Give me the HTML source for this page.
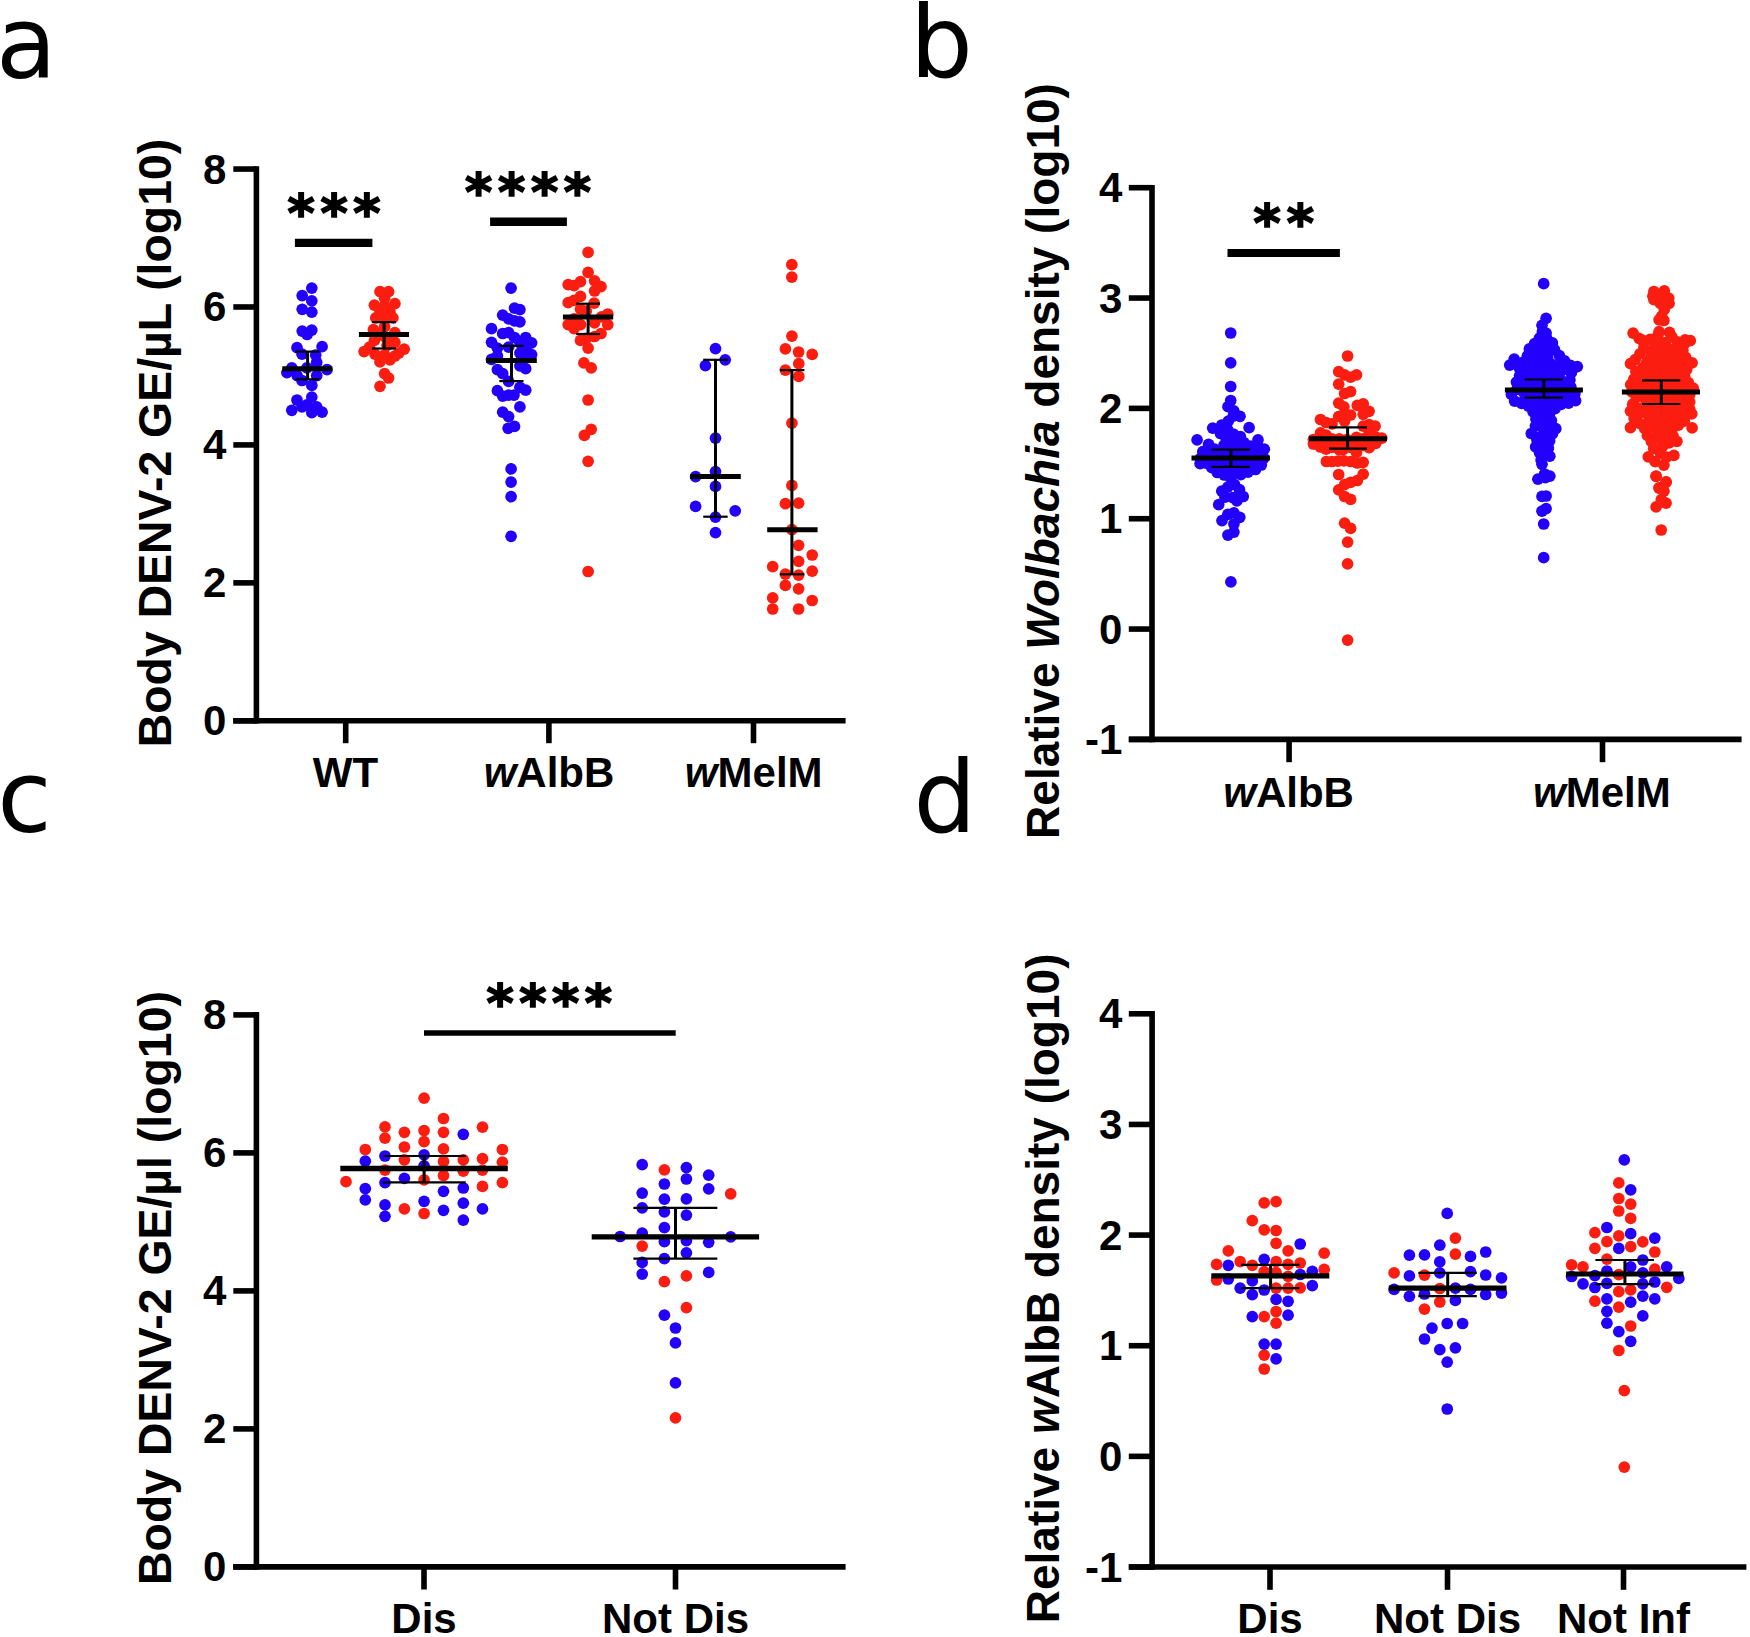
<!DOCTYPE html>
<html lang="en">
<head>
<meta charset="utf-8">
<title>Figure</title>
<style>
html,body{margin:0;padding:0;background:#fff;}
body{width:1750px;height:1637px;overflow:hidden;}
svg{display:block;}
.t{font-family:"Liberation Sans",Arial,Helvetica,sans-serif;font-weight:bold;fill:#000;}
.p{font-family:"DejaVu Sans","Liberation Sans",sans-serif;font-weight:normal;fill:#000;}
.s{font-family:"DejaVu Sans","Liberation Sans",sans-serif;font-weight:bold;fill:#000;}
</style>
</head>
<body>
<svg width="1750" height="1637" viewBox="0 0 1750 1637">
<rect width="1750" height="1637" fill="#fff"/>
<text class="p" x="-4" y="77.5" font-size="99" text-anchor="start">a</text>
<text class="p" x="910" y="77.4" font-size="99" text-anchor="start">b</text>
<text class="p" x="-2.8" y="832.1" font-size="99" text-anchor="start">c</text>
<text class="p" x="913.5" y="831.6" font-size="99" text-anchor="start">d</text>
<line x1="256.4" y1="166.2" x2="256.4" y2="723.5999999999999" stroke="#000" stroke-width="5.6"/>
<line x1="233.2" y1="720.8" x2="845.6" y2="720.8" stroke="#000" stroke-width="5.6"/>
<line x1="233.3" y1="720.8" x2="256.4" y2="720.8" stroke="#000" stroke-width="5.6"/>
<line x1="233.3" y1="582.8599999999999" x2="256.4" y2="582.8599999999999" stroke="#000" stroke-width="5.6"/>
<line x1="233.3" y1="444.91999999999996" x2="256.4" y2="444.91999999999996" stroke="#000" stroke-width="5.6"/>
<line x1="233.3" y1="306.97999999999996" x2="256.4" y2="306.97999999999996" stroke="#000" stroke-width="5.6"/>
<line x1="233.3" y1="169.03999999999996" x2="256.4" y2="169.03999999999996" stroke="#000" stroke-width="5.6"/>
<line x1="345.7" y1="720.8" x2="345.7" y2="743.2" stroke="#000" stroke-width="5.6"/>
<line x1="548.9" y1="720.8" x2="548.9" y2="743.2" stroke="#000" stroke-width="5.6"/>
<line x1="753.5" y1="720.8" x2="753.5" y2="743.2" stroke="#000" stroke-width="5.6"/>
<text class="t" x="226.3" y="735.3" font-size="42" text-anchor="end">0</text>
<text class="t" x="226.3" y="597.3599999999999" font-size="42" text-anchor="end">2</text>
<text class="t" x="226.3" y="459.41999999999996" font-size="42" text-anchor="end">4</text>
<text class="t" x="226.3" y="321.47999999999996" font-size="42" text-anchor="end">6</text>
<text class="t" x="226.3" y="183.53999999999996" font-size="42" text-anchor="end">8</text>
<text class="t" transform="translate(171.2 443) rotate(-90)" font-size="46.4" text-anchor="middle">Body DENV-2 GE/µL (log10)</text>
<text class="t" x="345.5" y="787" font-size="42" text-anchor="middle">WT</text>
<text class="t" x="549" y="787" font-size="42" text-anchor="middle"><tspan font-style="italic">w</tspan>AlbB</text>
<text class="t" x="753.7" y="787" font-size="42" text-anchor="middle"><tspan font-style="italic">w</tspan>MelM</text>
<line x1="1152.0" y1="184.9" x2="1152.0" y2="742.1999999999999" stroke="#000" stroke-width="5.6"/>
<line x1="1128.8" y1="739.4" x2="1741.6" y2="739.4" stroke="#000" stroke-width="5.6"/>
<line x1="1128.8" y1="739.4" x2="1152.0" y2="739.4" stroke="#000" stroke-width="5.6"/>
<line x1="1128.8" y1="629.06" x2="1152.0" y2="629.06" stroke="#000" stroke-width="5.6"/>
<line x1="1128.8" y1="518.7199999999999" x2="1152.0" y2="518.7199999999999" stroke="#000" stroke-width="5.6"/>
<line x1="1128.8" y1="408.37999999999994" x2="1152.0" y2="408.37999999999994" stroke="#000" stroke-width="5.6"/>
<line x1="1128.8" y1="298.03999999999996" x2="1152.0" y2="298.03999999999996" stroke="#000" stroke-width="5.6"/>
<line x1="1128.8" y1="187.69999999999993" x2="1152.0" y2="187.69999999999993" stroke="#000" stroke-width="5.6"/>
<line x1="1289.1" y1="739.4" x2="1289.1" y2="762.1999999999999" stroke="#000" stroke-width="5.6"/>
<line x1="1602.5" y1="739.4" x2="1602.5" y2="762.1999999999999" stroke="#000" stroke-width="5.6"/>
<text class="t" x="1122.3" y="753.9" font-size="42" text-anchor="end">-1</text>
<text class="t" x="1122.3" y="643.56" font-size="42" text-anchor="end">0</text>
<text class="t" x="1122.3" y="533.2199999999999" font-size="42" text-anchor="end">1</text>
<text class="t" x="1122.3" y="422.87999999999994" font-size="42" text-anchor="end">2</text>
<text class="t" x="1122.3" y="312.53999999999996" font-size="42" text-anchor="end">3</text>
<text class="t" x="1122.3" y="202.19999999999993" font-size="42" text-anchor="end">4</text>
<text class="t" transform="translate(1058.5 461) rotate(-90)" font-size="46" text-anchor="middle">Relative <tspan font-style="italic">Wolbachia</tspan> density (log10)</text>
<text class="t" x="1288.6" y="806.5" font-size="42" text-anchor="middle"><tspan font-style="italic">w</tspan>AlbB</text>
<text class="t" x="1601.9" y="806.5" font-size="42" text-anchor="middle"><tspan font-style="italic">w</tspan>MelM</text>
<line x1="256.4" y1="1012.1" x2="256.4" y2="1569.7" stroke="#000" stroke-width="5.6"/>
<line x1="233.2" y1="1566.9" x2="845.6" y2="1566.9" stroke="#000" stroke-width="5.6"/>
<line x1="233.3" y1="1566.9" x2="256.4" y2="1566.9" stroke="#000" stroke-width="5.6"/>
<line x1="233.3" y1="1428.9" x2="256.4" y2="1428.9" stroke="#000" stroke-width="5.6"/>
<line x1="233.3" y1="1290.9" x2="256.4" y2="1290.9" stroke="#000" stroke-width="5.6"/>
<line x1="233.3" y1="1152.9" x2="256.4" y2="1152.9" stroke="#000" stroke-width="5.6"/>
<line x1="233.3" y1="1014.9000000000001" x2="256.4" y2="1014.9000000000001" stroke="#000" stroke-width="5.6"/>
<line x1="424" y1="1566.9" x2="424" y2="1589.5" stroke="#000" stroke-width="5.6"/>
<line x1="675.5" y1="1566.9" x2="675.5" y2="1589.5" stroke="#000" stroke-width="5.6"/>
<text class="t" x="226.3" y="1581.4" font-size="42" text-anchor="end">0</text>
<text class="t" x="226.3" y="1443.4" font-size="42" text-anchor="end">2</text>
<text class="t" x="226.3" y="1305.4" font-size="42" text-anchor="end">4</text>
<text class="t" x="226.3" y="1167.4" font-size="42" text-anchor="end">6</text>
<text class="t" x="226.3" y="1029.4" font-size="42" text-anchor="end">8</text>
<text class="t" transform="translate(171.2 1288) rotate(-90)" font-size="46.4" text-anchor="middle">Body DENV-2 GE/µl (log10)</text>
<text class="t" x="424" y="1633.3" font-size="42" text-anchor="middle">Dis</text>
<text class="t" x="675.5" y="1633.3" font-size="42" text-anchor="middle">Not Dis</text>
<line x1="1152.1" y1="1011.0" x2="1152.1" y2="1569.8" stroke="#000" stroke-width="5.6"/>
<line x1="1128.8" y1="1567.0" x2="1746.4" y2="1567.0" stroke="#000" stroke-width="5.6"/>
<line x1="1128.8" y1="1567.0" x2="1152.1" y2="1567.0" stroke="#000" stroke-width="5.6"/>
<line x1="1128.8" y1="1456.36" x2="1152.1" y2="1456.36" stroke="#000" stroke-width="5.6"/>
<line x1="1128.8" y1="1345.7199999999998" x2="1152.1" y2="1345.7199999999998" stroke="#000" stroke-width="5.6"/>
<line x1="1128.8" y1="1235.08" x2="1152.1" y2="1235.08" stroke="#000" stroke-width="5.6"/>
<line x1="1128.8" y1="1124.4399999999998" x2="1152.1" y2="1124.4399999999998" stroke="#000" stroke-width="5.6"/>
<line x1="1128.8" y1="1013.8" x2="1152.1" y2="1013.8" stroke="#000" stroke-width="5.6"/>
<line x1="1270" y1="1567.0" x2="1270" y2="1589.8" stroke="#000" stroke-width="5.6"/>
<line x1="1447.5" y1="1567.0" x2="1447.5" y2="1589.8" stroke="#000" stroke-width="5.6"/>
<line x1="1623.5" y1="1567.0" x2="1623.5" y2="1589.8" stroke="#000" stroke-width="5.6"/>
<text class="t" x="1122.3" y="1581.5" font-size="42" text-anchor="end">-1</text>
<text class="t" x="1122.3" y="1470.86" font-size="42" text-anchor="end">0</text>
<text class="t" x="1122.3" y="1360.2199999999998" font-size="42" text-anchor="end">1</text>
<text class="t" x="1122.3" y="1249.58" font-size="42" text-anchor="end">2</text>
<text class="t" x="1122.3" y="1138.9399999999998" font-size="42" text-anchor="end">3</text>
<text class="t" x="1122.3" y="1028.3" font-size="42" text-anchor="end">4</text>
<text class="t" transform="translate(1058.5 1288.4) rotate(-90)" font-size="46" text-anchor="middle">Relative <tspan font-style="italic">w</tspan>AlbB density (log10)</text>
<text class="t" x="1270" y="1633.3" font-size="42" text-anchor="middle">Dis</text>
<text class="t" x="1447.5" y="1633.3" font-size="42" text-anchor="middle">Not Dis</text>
<text class="t" x="1623.5" y="1633.3" font-size="42" text-anchor="middle">Not Inf</text>
<g fill="#2200fb">
<circle cx="311.8" cy="288.1" r="5.85"/>
<circle cx="302.2" cy="295.6" r="5.85"/>
<circle cx="311.8" cy="300.8" r="5.85"/>
<circle cx="302.2" cy="309.3" r="5.85"/>
<circle cx="311.8" cy="312.2" r="5.85"/>
<circle cx="302.2" cy="331.1" r="5.85"/>
<circle cx="311.8" cy="330.1" r="5.85"/>
<circle cx="307.1" cy="334.5" r="5.85"/>
<circle cx="297.0" cy="347.7" r="5.85"/>
<circle cx="322.1" cy="346.7" r="5.85"/>
<circle cx="302.0" cy="354.1" r="5.85"/>
<circle cx="315.7" cy="355.0" r="5.85"/>
<circle cx="316.7" cy="362.4" r="5.85"/>
<circle cx="291.8" cy="367.8" r="5.85"/>
<circle cx="306.9" cy="367.8" r="5.85"/>
<circle cx="327.0" cy="369.7" r="5.85"/>
<circle cx="286.9" cy="372.6" r="5.85"/>
<circle cx="297.1" cy="375.6" r="5.85"/>
<circle cx="316.7" cy="375.6" r="5.85"/>
<circle cx="302.0" cy="380.5" r="5.85"/>
<circle cx="311.8" cy="385.4" r="5.85"/>
<circle cx="311.8" cy="397.1" r="5.85"/>
<circle cx="297.0" cy="400.0" r="5.85"/>
<circle cx="291.8" cy="410.3" r="5.85"/>
<circle cx="302.0" cy="406.9" r="5.85"/>
<circle cx="316.7" cy="406.9" r="5.85"/>
<circle cx="311.8" cy="412.7" r="5.85"/>
<circle cx="322.1" cy="412.2" r="5.85"/>
<circle cx="306.9" cy="404.9" r="5.85"/>
</g>
<g fill="#fb1e10">
<circle cx="380.0" cy="291.7" r="5.85"/>
<circle cx="388.6" cy="291.7" r="5.85"/>
<circle cx="384.6" cy="298.3" r="5.85"/>
<circle cx="374.4" cy="305.2" r="5.85"/>
<circle cx="394.9" cy="303.7" r="5.85"/>
<circle cx="384.6" cy="306.2" r="5.85"/>
<circle cx="380.0" cy="312.0" r="5.85"/>
<circle cx="390.0" cy="312.0" r="5.85"/>
<circle cx="375.8" cy="317.9" r="5.85"/>
<circle cx="392.9" cy="317.9" r="5.85"/>
<circle cx="384.6" cy="318.9" r="5.85"/>
<circle cx="373.4" cy="329.6" r="5.85"/>
<circle cx="384.6" cy="326.7" r="5.85"/>
<circle cx="394.9" cy="332.6" r="5.85"/>
<circle cx="380.0" cy="334.5" r="5.85"/>
<circle cx="390.0" cy="337.5" r="5.85"/>
<circle cx="374.4" cy="340.4" r="5.85"/>
<circle cx="394.9" cy="342.3" r="5.85"/>
<circle cx="364.1" cy="351.6" r="5.85"/>
<circle cx="369.5" cy="347.2" r="5.85"/>
<circle cx="404.2" cy="349.2" r="5.85"/>
<circle cx="398.8" cy="353.1" r="5.85"/>
<circle cx="374.9" cy="354.1" r="5.85"/>
<circle cx="384.6" cy="355.0" r="5.85"/>
<circle cx="394.9" cy="356.0" r="5.85"/>
<circle cx="380.0" cy="361.9" r="5.85"/>
<circle cx="390.0" cy="359.9" r="5.85"/>
<circle cx="384.6" cy="373.6" r="5.85"/>
<circle cx="388.6" cy="378.0" r="5.85"/>
<circle cx="380.0" cy="386.3" r="5.85"/>
</g>
<g fill="#fb1e10">
<circle cx="384.6" cy="336.5" r="5.85"/>
<circle cx="387.1" cy="345.3" r="5.85"/>
</g>
<g fill="#2200fb">
<circle cx="511.1" cy="288.1" r="5.85"/>
<circle cx="514.5" cy="308.1" r="5.85"/>
<circle cx="519.9" cy="309.6" r="5.85"/>
<circle cx="502.7" cy="315.2" r="5.85"/>
<circle cx="508.6" cy="318.9" r="5.85"/>
<circle cx="514.5" cy="320.8" r="5.85"/>
<circle cx="519.9" cy="321.8" r="5.85"/>
<circle cx="491.5" cy="328.7" r="5.85"/>
<circle cx="502.7" cy="333.5" r="5.85"/>
<circle cx="508.6" cy="332.6" r="5.85"/>
<circle cx="514.5" cy="337.5" r="5.85"/>
<circle cx="525.7" cy="337.5" r="5.85"/>
<circle cx="491.5" cy="342.3" r="5.85"/>
<circle cx="519.9" cy="342.8" r="5.85"/>
<circle cx="531.6" cy="342.8" r="5.85"/>
<circle cx="508.6" cy="347.2" r="5.85"/>
<circle cx="497.4" cy="348.2" r="5.85"/>
<circle cx="525.7" cy="348.2" r="5.85"/>
<circle cx="531.6" cy="354.6" r="5.85"/>
<circle cx="525.7" cy="355.0" r="5.85"/>
<circle cx="519.9" cy="353.1" r="5.85"/>
<circle cx="491.5" cy="359.4" r="5.85"/>
<circle cx="497.4" cy="356.0" r="5.85"/>
<circle cx="497.4" cy="369.7" r="5.85"/>
<circle cx="502.7" cy="373.6" r="5.85"/>
<circle cx="525.7" cy="368.7" r="5.85"/>
<circle cx="519.9" cy="365.8" r="5.85"/>
<circle cx="508.6" cy="381.4" r="5.85"/>
<circle cx="497.4" cy="390.7" r="5.85"/>
<circle cx="525.7" cy="390.2" r="5.85"/>
<circle cx="519.9" cy="387.3" r="5.85"/>
<circle cx="502.7" cy="396.1" r="5.85"/>
<circle cx="508.6" cy="395.1" r="5.85"/>
<circle cx="514.0" cy="395.1" r="5.85"/>
<circle cx="519.9" cy="406.9" r="5.85"/>
<circle cx="502.7" cy="412.2" r="5.85"/>
<circle cx="508.6" cy="416.6" r="5.85"/>
<circle cx="508.1" cy="428.3" r="5.85"/>
<circle cx="514.5" cy="426.4" r="5.85"/>
<circle cx="511.1" cy="468.9" r="5.85"/>
<circle cx="511.1" cy="482.1" r="5.85"/>
<circle cx="511.1" cy="496.7" r="5.85"/>
<circle cx="511.1" cy="536.3" r="5.85"/>
</g>
<g fill="#fb1e10">
<circle cx="588.1" cy="252.3" r="5.85"/>
<circle cx="588.1" cy="272.4" r="5.85"/>
<circle cx="568.2" cy="284.7" r="5.85"/>
<circle cx="574.1" cy="285.6" r="5.85"/>
<circle cx="580.5" cy="281.7" r="5.85"/>
<circle cx="594.6" cy="280.8" r="5.85"/>
<circle cx="601.0" cy="286.6" r="5.85"/>
<circle cx="594.6" cy="291.0" r="5.85"/>
<circle cx="580.5" cy="296.4" r="5.85"/>
<circle cx="568.2" cy="302.7" r="5.85"/>
<circle cx="574.1" cy="300.3" r="5.85"/>
<circle cx="594.2" cy="303.2" r="5.85"/>
<circle cx="580.5" cy="309.1" r="5.85"/>
<circle cx="586.3" cy="311.1" r="5.85"/>
<circle cx="607.8" cy="314.0" r="5.85"/>
<circle cx="601.5" cy="316.9" r="5.85"/>
<circle cx="568.2" cy="324.7" r="5.85"/>
<circle cx="574.1" cy="318.9" r="5.85"/>
<circle cx="580.5" cy="324.7" r="5.85"/>
<circle cx="594.6" cy="322.8" r="5.85"/>
<circle cx="607.8" cy="324.7" r="5.85"/>
<circle cx="574.1" cy="328.7" r="5.85"/>
<circle cx="601.0" cy="333.5" r="5.85"/>
<circle cx="580.5" cy="340.4" r="5.85"/>
<circle cx="594.6" cy="336.5" r="5.85"/>
<circle cx="586.3" cy="338.4" r="5.85"/>
<circle cx="588.1" cy="348.2" r="5.85"/>
<circle cx="583.9" cy="362.9" r="5.85"/>
<circle cx="591.2" cy="367.8" r="5.85"/>
<circle cx="588.1" cy="400.0" r="5.85"/>
<circle cx="591.2" cy="429.3" r="5.85"/>
<circle cx="584.4" cy="435.4" r="5.85"/>
<circle cx="588.1" cy="461.3" r="5.85"/>
<circle cx="588.1" cy="571.5" r="5.85"/>
</g>
<g fill="#2200fb">
<circle cx="715.5" cy="348.6" r="5.85"/>
<circle cx="725.2" cy="359.8" r="5.85"/>
<circle cx="705.4" cy="365.7" r="5.85"/>
<circle cx="715.5" cy="438.2" r="5.85"/>
<circle cx="715.5" cy="471.6" r="5.85"/>
<circle cx="695.6" cy="476.6" r="5.85"/>
<circle cx="715.5" cy="486.4" r="5.85"/>
<circle cx="695.6" cy="506.4" r="5.85"/>
<circle cx="735.2" cy="510.9" r="5.85"/>
<circle cx="715.5" cy="517.1" r="5.85"/>
<circle cx="715.5" cy="532.6" r="5.85"/>
</g>
<g fill="#fb1e10">
<circle cx="791.8" cy="264.7" r="5.85"/>
<circle cx="791.8" cy="277.1" r="5.85"/>
<circle cx="791.9" cy="336.1" r="5.85"/>
<circle cx="785.4" cy="348.9" r="5.85"/>
<circle cx="798.6" cy="352.0" r="5.85"/>
<circle cx="812.2" cy="354.4" r="5.85"/>
<circle cx="798.8" cy="363.7" r="5.85"/>
<circle cx="785.4" cy="370.1" r="5.85"/>
<circle cx="798.8" cy="376.4" r="5.85"/>
<circle cx="791.9" cy="423.1" r="5.85"/>
<circle cx="791.9" cy="485.4" r="5.85"/>
<circle cx="785.4" cy="503.7" r="5.85"/>
<circle cx="798.6" cy="503.2" r="5.85"/>
<circle cx="791.9" cy="529.6" r="5.85"/>
<circle cx="798.6" cy="545.3" r="5.85"/>
<circle cx="812.2" cy="555.0" r="5.85"/>
<circle cx="798.6" cy="561.4" r="5.85"/>
<circle cx="772.7" cy="566.6" r="5.85"/>
<circle cx="812.2" cy="571.2" r="5.85"/>
<circle cx="785.4" cy="574.1" r="5.85"/>
<circle cx="798.6" cy="575.1" r="5.85"/>
<circle cx="785.4" cy="585.4" r="5.85"/>
<circle cx="798.6" cy="588.8" r="5.85"/>
<circle cx="772.7" cy="597.9" r="5.85"/>
<circle cx="812.2" cy="600.5" r="5.85"/>
<circle cx="772.7" cy="609.0" r="5.85"/>
<circle cx="798.6" cy="609.0" r="5.85"/>
</g>
<g fill="#fb1e10">
<circle cx="346.0" cy="1181.7" r="5.85"/>
<circle cx="365.3" cy="1149.5" r="5.85"/>
<circle cx="385.0" cy="1126.9" r="5.85"/>
<circle cx="385.0" cy="1138.1" r="5.85"/>
<circle cx="385.0" cy="1170.1" r="5.85"/>
<circle cx="404.4" cy="1132.3" r="5.85"/>
<circle cx="404.4" cy="1147.0" r="5.85"/>
<circle cx="404.4" cy="1159.8" r="5.85"/>
<circle cx="404.4" cy="1208.9" r="5.85"/>
<circle cx="424.1" cy="1098.2" r="5.85"/>
<circle cx="424.1" cy="1130.5" r="5.85"/>
<circle cx="424.1" cy="1141.7" r="5.85"/>
<circle cx="424.1" cy="1179.9" r="5.85"/>
<circle cx="424.1" cy="1213.5" r="5.85"/>
<circle cx="443.5" cy="1118.5" r="5.85"/>
<circle cx="443.5" cy="1132.3" r="5.85"/>
<circle cx="443.5" cy="1148.9" r="5.85"/>
<circle cx="443.5" cy="1161.4" r="5.85"/>
<circle cx="443.5" cy="1175.5" r="5.85"/>
<circle cx="463.3" cy="1159.8" r="5.85"/>
<circle cx="463.3" cy="1171.2" r="5.85"/>
<circle cx="482.5" cy="1127.2" r="5.85"/>
<circle cx="482.5" cy="1158.7" r="5.85"/>
<circle cx="482.5" cy="1170.1" r="5.85"/>
<circle cx="482.5" cy="1186.4" r="5.85"/>
<circle cx="502.4" cy="1149.5" r="5.85"/>
<circle cx="502.4" cy="1162.2" r="5.85"/>
<circle cx="502.4" cy="1182.6" r="5.85"/>
</g>
<g fill="#2200fb">
<circle cx="365.3" cy="1161.2" r="5.85"/>
<circle cx="365.3" cy="1188.6" r="5.85"/>
<circle cx="365.3" cy="1199.8" r="5.85"/>
<circle cx="385.0" cy="1156.0" r="5.85"/>
<circle cx="385.0" cy="1182.6" r="5.85"/>
<circle cx="385.0" cy="1204.9" r="5.85"/>
<circle cx="385.0" cy="1216.3" r="5.85"/>
<circle cx="404.4" cy="1178.3" r="5.85"/>
<circle cx="424.1" cy="1154.9" r="5.85"/>
<circle cx="424.1" cy="1165.8" r="5.85"/>
<circle cx="424.1" cy="1201.3" r="5.85"/>
<circle cx="443.5" cy="1191.3" r="5.85"/>
<circle cx="443.5" cy="1210.3" r="5.85"/>
<circle cx="463.3" cy="1134.3" r="5.85"/>
<circle cx="463.3" cy="1188.0" r="5.85"/>
<circle cx="463.3" cy="1203.2" r="5.85"/>
<circle cx="463.3" cy="1220.1" r="5.85"/>
<circle cx="482.5" cy="1208.9" r="5.85"/>
</g>
<g fill="#2200fb">
<circle cx="620.2" cy="1236.5" r="5.85"/>
<circle cx="642.2" cy="1164.7" r="5.85"/>
<circle cx="642.2" cy="1193.1" r="5.85"/>
<circle cx="642.2" cy="1207.9" r="5.85"/>
<circle cx="642.2" cy="1233.1" r="5.85"/>
<circle cx="642.2" cy="1262.4" r="5.85"/>
<circle cx="642.2" cy="1274.1" r="5.85"/>
<circle cx="664.4" cy="1184.0" r="5.85"/>
<circle cx="664.4" cy="1199.2" r="5.85"/>
<circle cx="664.4" cy="1211.9" r="5.85"/>
<circle cx="664.4" cy="1227.6" r="5.85"/>
<circle cx="664.4" cy="1241.7" r="5.85"/>
<circle cx="664.4" cy="1258.6" r="5.85"/>
<circle cx="686.4" cy="1167.6" r="5.85"/>
<circle cx="686.4" cy="1179.0" r="5.85"/>
<circle cx="686.4" cy="1198.9" r="5.85"/>
<circle cx="686.4" cy="1215.1" r="5.85"/>
<circle cx="686.4" cy="1240.7" r="5.85"/>
<circle cx="686.4" cy="1252.8" r="5.85"/>
<circle cx="708.7" cy="1175.2" r="5.85"/>
<circle cx="708.7" cy="1188.8" r="5.85"/>
<circle cx="708.7" cy="1242.3" r="5.85"/>
<circle cx="708.7" cy="1272.4" r="5.85"/>
<circle cx="730.7" cy="1236.9" r="5.85"/>
<circle cx="664.4" cy="1315.2" r="5.85"/>
<circle cx="675.5" cy="1328.0" r="5.85"/>
<circle cx="675.5" cy="1342.9" r="5.85"/>
<circle cx="675.5" cy="1382.8" r="5.85"/>
</g>
<g fill="#fb1e10">
<circle cx="642.2" cy="1246.1" r="5.85"/>
<circle cx="664.4" cy="1169.8" r="5.85"/>
<circle cx="664.4" cy="1281.7" r="5.85"/>
<circle cx="686.4" cy="1275.9" r="5.85"/>
<circle cx="730.7" cy="1193.8" r="5.85"/>
<circle cx="686.4" cy="1307.7" r="5.85"/>
<circle cx="675.5" cy="1417.8" r="5.85"/>
</g>
<g fill="#fb1e10">
<circle cx="1264.2" cy="1202.8" r="5.85"/>
<circle cx="1276.1" cy="1201.6" r="5.85"/>
<circle cx="1252.3" cy="1220.7" r="5.85"/>
<circle cx="1264.2" cy="1229.8" r="5.85"/>
<circle cx="1276.1" cy="1230.5" r="5.85"/>
<circle cx="1276.1" cy="1243.3" r="5.85"/>
<circle cx="1228.3" cy="1250.9" r="5.85"/>
<circle cx="1288.1" cy="1250.8" r="5.85"/>
<circle cx="1324.2" cy="1253.2" r="5.85"/>
<circle cx="1240.2" cy="1261.6" r="5.85"/>
<circle cx="1276.1" cy="1261.6" r="5.85"/>
<circle cx="1216.6" cy="1264.4" r="5.85"/>
<circle cx="1252.3" cy="1265.3" r="5.85"/>
<circle cx="1288.1" cy="1264.4" r="5.85"/>
<circle cx="1300.2" cy="1263.0" r="5.85"/>
<circle cx="1324.2" cy="1269.4" r="5.85"/>
<circle cx="1264.2" cy="1271.7" r="5.85"/>
<circle cx="1276.1" cy="1272.6" r="5.85"/>
<circle cx="1288.1" cy="1276.3" r="5.85"/>
<circle cx="1216.6" cy="1280.0" r="5.85"/>
<circle cx="1276.1" cy="1288.2" r="5.85"/>
<circle cx="1288.1" cy="1288.2" r="5.85"/>
<circle cx="1300.2" cy="1287.8" r="5.85"/>
<circle cx="1276.1" cy="1311.5" r="5.85"/>
<circle cx="1264.2" cy="1316.6" r="5.85"/>
<circle cx="1276.1" cy="1323.2" r="5.85"/>
<circle cx="1264.2" cy="1355.2" r="5.85"/>
<circle cx="1264.2" cy="1369.0" r="5.85"/>
</g>
<g fill="#2200fb">
<circle cx="1300.2" cy="1244.0" r="5.85"/>
<circle cx="1264.2" cy="1259.3" r="5.85"/>
<circle cx="1228.3" cy="1265.3" r="5.85"/>
<circle cx="1312.3" cy="1271.3" r="5.85"/>
<circle cx="1300.2" cy="1274.5" r="5.85"/>
<circle cx="1228.3" cy="1279.0" r="5.85"/>
<circle cx="1252.3" cy="1280.9" r="5.85"/>
<circle cx="1240.2" cy="1288.2" r="5.85"/>
<circle cx="1264.2" cy="1290.0" r="5.85"/>
<circle cx="1312.3" cy="1285.6" r="5.85"/>
<circle cx="1252.3" cy="1294.6" r="5.85"/>
<circle cx="1276.1" cy="1299.4" r="5.85"/>
<circle cx="1288.1" cy="1301.3" r="5.85"/>
<circle cx="1288.1" cy="1315.2" r="5.85"/>
<circle cx="1252.3" cy="1316.6" r="5.85"/>
<circle cx="1264.2" cy="1344.1" r="5.85"/>
<circle cx="1276.1" cy="1344.1" r="5.85"/>
<circle cx="1276.1" cy="1358.9" r="5.85"/>
</g>
<g fill="#2200fb">
<circle cx="1447.2" cy="1213.4" r="5.85"/>
<circle cx="1439.8" cy="1245.2" r="5.85"/>
<circle cx="1409.4" cy="1255.1" r="5.85"/>
<circle cx="1424.5" cy="1254.9" r="5.85"/>
<circle cx="1470.5" cy="1256.4" r="5.85"/>
<circle cx="1485.7" cy="1252.0" r="5.85"/>
<circle cx="1439.8" cy="1261.9" r="5.85"/>
<circle cx="1409.4" cy="1275.9" r="5.85"/>
<circle cx="1439.8" cy="1272.9" r="5.85"/>
<circle cx="1470.5" cy="1271.6" r="5.85"/>
<circle cx="1485.7" cy="1275.0" r="5.85"/>
<circle cx="1501.5" cy="1277.8" r="5.85"/>
<circle cx="1394.1" cy="1289.4" r="5.85"/>
<circle cx="1455.4" cy="1288.1" r="5.85"/>
<circle cx="1470.5" cy="1289.4" r="5.85"/>
<circle cx="1409.4" cy="1296.3" r="5.85"/>
<circle cx="1424.5" cy="1294.0" r="5.85"/>
<circle cx="1485.7" cy="1294.5" r="5.85"/>
<circle cx="1501.5" cy="1293.1" r="5.85"/>
<circle cx="1455.4" cy="1300.4" r="5.85"/>
<circle cx="1447.2" cy="1323.5" r="5.85"/>
<circle cx="1462.6" cy="1323.5" r="5.85"/>
<circle cx="1432.0" cy="1328.1" r="5.85"/>
<circle cx="1424.5" cy="1339.0" r="5.85"/>
<circle cx="1439.8" cy="1349.7" r="5.85"/>
<circle cx="1455.4" cy="1347.8" r="5.85"/>
<circle cx="1447.2" cy="1362.2" r="5.85"/>
<circle cx="1447.2" cy="1409.0" r="5.85"/>
</g>
<g fill="#fb1e10">
<circle cx="1455.4" cy="1238.1" r="5.85"/>
<circle cx="1455.4" cy="1254.1" r="5.85"/>
<circle cx="1394.1" cy="1272.9" r="5.85"/>
<circle cx="1424.5" cy="1275.2" r="5.85"/>
<circle cx="1439.8" cy="1288.5" r="5.85"/>
<circle cx="1439.8" cy="1302.0" r="5.85"/>
<circle cx="1424.5" cy="1309.1" r="5.85"/>
</g>
<g fill="#fb1e10">
<circle cx="1618.8" cy="1182.9" r="5.85"/>
<circle cx="1618.8" cy="1198.5" r="5.85"/>
<circle cx="1630.7" cy="1204.1" r="5.85"/>
<circle cx="1618.8" cy="1211.0" r="5.85"/>
<circle cx="1630.7" cy="1218.4" r="5.85"/>
<circle cx="1594.9" cy="1232.7" r="5.85"/>
<circle cx="1618.8" cy="1235.8" r="5.85"/>
<circle cx="1606.9" cy="1241.7" r="5.85"/>
<circle cx="1642.8" cy="1241.9" r="5.85"/>
<circle cx="1594.9" cy="1248.3" r="5.85"/>
<circle cx="1630.7" cy="1246.6" r="5.85"/>
<circle cx="1654.8" cy="1252.0" r="5.85"/>
<circle cx="1606.9" cy="1259.1" r="5.85"/>
<circle cx="1571.6" cy="1264.8" r="5.85"/>
<circle cx="1583.0" cy="1266.9" r="5.85"/>
<circle cx="1654.8" cy="1269.2" r="5.85"/>
<circle cx="1618.8" cy="1274.7" r="5.85"/>
<circle cx="1666.7" cy="1287.3" r="5.85"/>
<circle cx="1618.8" cy="1291.6" r="5.85"/>
<circle cx="1630.7" cy="1289.8" r="5.85"/>
<circle cx="1594.9" cy="1301.2" r="5.85"/>
<circle cx="1618.8" cy="1307.2" r="5.85"/>
<circle cx="1630.7" cy="1326.0" r="5.85"/>
<circle cx="1618.8" cy="1350.5" r="5.85"/>
<circle cx="1624.3" cy="1390.6" r="5.85"/>
<circle cx="1624.3" cy="1467.1" r="5.85"/>
</g>
<g fill="#2200fb">
<circle cx="1624.3" cy="1159.9" r="5.85"/>
<circle cx="1630.7" cy="1189.8" r="5.85"/>
<circle cx="1606.9" cy="1227.5" r="5.85"/>
<circle cx="1630.7" cy="1233.7" r="5.85"/>
<circle cx="1654.8" cy="1238.1" r="5.85"/>
<circle cx="1618.8" cy="1248.4" r="5.85"/>
<circle cx="1642.8" cy="1260.0" r="5.85"/>
<circle cx="1630.7" cy="1266.9" r="5.85"/>
<circle cx="1666.7" cy="1266.9" r="5.85"/>
<circle cx="1606.9" cy="1271.0" r="5.85"/>
<circle cx="1642.8" cy="1272.9" r="5.85"/>
<circle cx="1594.9" cy="1275.6" r="5.85"/>
<circle cx="1571.6" cy="1276.5" r="5.85"/>
<circle cx="1678.8" cy="1278.4" r="5.85"/>
<circle cx="1583.0" cy="1283.8" r="5.85"/>
<circle cx="1606.9" cy="1283.4" r="5.85"/>
<circle cx="1642.8" cy="1283.8" r="5.85"/>
<circle cx="1654.8" cy="1282.0" r="5.85"/>
<circle cx="1594.9" cy="1287.5" r="5.85"/>
<circle cx="1642.8" cy="1296.2" r="5.85"/>
<circle cx="1606.9" cy="1298.9" r="5.85"/>
<circle cx="1654.8" cy="1298.9" r="5.85"/>
<circle cx="1630.7" cy="1302.2" r="5.85"/>
<circle cx="1606.9" cy="1311.3" r="5.85"/>
<circle cx="1642.8" cy="1315.9" r="5.85"/>
<circle cx="1606.9" cy="1323.2" r="5.85"/>
<circle cx="1618.8" cy="1331.7" r="5.85"/>
<circle cx="1630.7" cy="1341.3" r="5.85"/>
</g>
<g fill="#2200fb">
<circle cx="1230.7" cy="333.0" r="5.85"/>
<circle cx="1230.7" cy="362.8" r="5.85"/>
<circle cx="1230.7" cy="386.5" r="5.85"/>
<circle cx="1230.7" cy="400.5" r="5.85"/>
<circle cx="1228.0" cy="406.7" r="5.85"/>
<circle cx="1233.8" cy="410.8" r="5.85"/>
<circle cx="1240.0" cy="416.3" r="5.85"/>
<circle cx="1249.1" cy="427.7" r="5.85"/>
<circle cx="1197.1" cy="439.9" r="5.85"/>
<circle cx="1212.7" cy="428.1" r="5.85"/>
<circle cx="1258.0" cy="439.9" r="5.85"/>
<circle cx="1208.6" cy="444.4" r="5.85"/>
<circle cx="1264.3" cy="449.2" r="5.85"/>
<circle cx="1200.1" cy="463.7" r="5.85"/>
<circle cx="1218.7" cy="504.6" r="5.85"/>
<circle cx="1243.2" cy="496.5" r="5.85"/>
<circle cx="1236.9" cy="500.9" r="5.85"/>
<circle cx="1225.0" cy="497.2" r="5.85"/>
<circle cx="1227.9" cy="514.3" r="5.85"/>
<circle cx="1233.9" cy="512.8" r="5.85"/>
<circle cx="1239.8" cy="517.3" r="5.85"/>
<circle cx="1222.0" cy="520.6" r="5.85"/>
<circle cx="1233.9" cy="524.0" r="5.85"/>
<circle cx="1233.9" cy="532.1" r="5.85"/>
<circle cx="1227.9" cy="535.1" r="5.85"/>
<circle cx="1230.9" cy="581.9" r="5.85"/>
<circle cx="1233.3" cy="416.0" r="5.85"/>
<circle cx="1228.3" cy="421.2" r="5.85"/>
<circle cx="1221.8" cy="425.0" r="5.85"/>
<circle cx="1227.5" cy="429.5" r="5.85"/>
<circle cx="1220.5" cy="433.5" r="5.85"/>
<circle cx="1233.3" cy="434.0" r="5.85"/>
<circle cx="1240.3" cy="436.5" r="5.85"/>
<circle cx="1226.0" cy="438.2" r="5.85"/>
<circle cx="1244.0" cy="442.7" r="5.85"/>
<circle cx="1224.0" cy="445.2" r="5.85"/>
<circle cx="1250.5" cy="446.2" r="5.85"/>
<circle cx="1257.8" cy="446.2" r="5.85"/>
<circle cx="1214.5" cy="449.2" r="5.85"/>
<circle cx="1202.8" cy="451.7" r="5.85"/>
<circle cx="1263.8" cy="458.0" r="5.85"/>
<circle cx="1200.3" cy="458.7" r="5.85"/>
<circle cx="1206.0" cy="463.2" r="5.85"/>
<circle cx="1261.3" cy="465.0" r="5.85"/>
<circle cx="1211.8" cy="467.7" r="5.85"/>
<circle cx="1255.5" cy="469.5" r="5.85"/>
<circle cx="1248.0" cy="472.2" r="5.85"/>
<circle cx="1217.3" cy="472.5" r="5.85"/>
<circle cx="1240.8" cy="474.7" r="5.85"/>
<circle cx="1224.3" cy="475.0" r="5.85"/>
<circle cx="1230.8" cy="478.2" r="5.85"/>
<circle cx="1234.5" cy="484.5" r="5.85"/>
<circle cx="1227.8" cy="487.2" r="5.85"/>
<circle cx="1239.5" cy="489.7" r="5.85"/>
<circle cx="1221.8" cy="491.2" r="5.85"/>
<circle cx="1232.8" cy="497.5" r="5.85"/>
<circle cx="1234.7" cy="442.6" r="5.85"/>
<circle cx="1231.0" cy="448.3" r="5.85"/>
<circle cx="1238.7" cy="448.9" r="5.85"/>
<circle cx="1245.8" cy="447.9" r="5.85"/>
<circle cx="1211.6" cy="454.6" r="5.85"/>
<circle cx="1218.7" cy="455.4" r="5.85"/>
<circle cx="1226.2" cy="455.2" r="5.85"/>
<circle cx="1235.1" cy="455.6" r="5.85"/>
<circle cx="1241.5" cy="455.0" r="5.85"/>
<circle cx="1249.7" cy="455.6" r="5.85"/>
<circle cx="1256.6" cy="454.3" r="5.85"/>
<circle cx="1215.4" cy="462.0" r="5.85"/>
<circle cx="1223.2" cy="461.2" r="5.85"/>
<circle cx="1229.8" cy="461.4" r="5.85"/>
<circle cx="1238.3" cy="461.2" r="5.85"/>
<circle cx="1246.1" cy="460.9" r="5.85"/>
<circle cx="1252.9" cy="462.1" r="5.85"/>
<circle cx="1218.3" cy="467.8" r="5.85"/>
<circle cx="1226.9" cy="468.9" r="5.85"/>
<circle cx="1235.0" cy="468.3" r="5.85"/>
<circle cx="1242.6" cy="468.4" r="5.85"/>
</g>
<g fill="#fb1e10">
<circle cx="1347.6" cy="356.0" r="5.85"/>
<circle cx="1338.7" cy="371.6" r="5.85"/>
<circle cx="1344.6" cy="374.9" r="5.85"/>
<circle cx="1350.6" cy="377.1" r="5.85"/>
<circle cx="1356.5" cy="374.9" r="5.85"/>
<circle cx="1338.7" cy="384.2" r="5.85"/>
<circle cx="1344.6" cy="393.5" r="5.85"/>
<circle cx="1350.6" cy="391.6" r="5.85"/>
<circle cx="1338.7" cy="403.1" r="5.85"/>
<circle cx="1343.9" cy="406.9" r="5.85"/>
<circle cx="1357.3" cy="405.4" r="5.85"/>
<circle cx="1363.2" cy="403.9" r="5.85"/>
<circle cx="1369.1" cy="411.3" r="5.85"/>
<circle cx="1363.2" cy="414.3" r="5.85"/>
<circle cx="1338.7" cy="416.5" r="5.85"/>
<circle cx="1344.6" cy="415.0" r="5.85"/>
<circle cx="1350.6" cy="415.0" r="5.85"/>
<circle cx="1320.5" cy="419.5" r="5.85"/>
<circle cx="1326.1" cy="422.5" r="5.85"/>
<circle cx="1332.0" cy="423.9" r="5.85"/>
<circle cx="1344.6" cy="421.0" r="5.85"/>
<circle cx="1363.2" cy="426.2" r="5.85"/>
<circle cx="1369.1" cy="424.7" r="5.85"/>
<circle cx="1375.1" cy="426.2" r="5.85"/>
<circle cx="1320.5" cy="432.9" r="5.85"/>
<circle cx="1326.1" cy="435.1" r="5.85"/>
<circle cx="1369.1" cy="431.4" r="5.85"/>
<circle cx="1313.4" cy="439.5" r="5.85"/>
<circle cx="1319.4" cy="440.3" r="5.85"/>
<circle cx="1339.4" cy="438.8" r="5.85"/>
<circle cx="1356.5" cy="437.3" r="5.85"/>
<circle cx="1381.8" cy="438.1" r="5.85"/>
<circle cx="1375.1" cy="436.6" r="5.85"/>
<circle cx="1326.1" cy="439.5" r="5.85"/>
<circle cx="1332.0" cy="438.8" r="5.85"/>
<circle cx="1346.9" cy="439.5" r="5.85"/>
<circle cx="1363.2" cy="438.8" r="5.85"/>
<circle cx="1369.1" cy="438.8" r="5.85"/>
<circle cx="1313.4" cy="444.0" r="5.85"/>
<circle cx="1326.1" cy="444.0" r="5.85"/>
<circle cx="1332.0" cy="445.5" r="5.85"/>
<circle cx="1337.9" cy="444.0" r="5.85"/>
<circle cx="1363.2" cy="445.5" r="5.85"/>
<circle cx="1369.1" cy="447.7" r="5.85"/>
<circle cx="1320.5" cy="447.0" r="5.85"/>
<circle cx="1326.1" cy="449.2" r="5.85"/>
<circle cx="1339.4" cy="449.9" r="5.85"/>
<circle cx="1356.5" cy="444.0" r="5.85"/>
<circle cx="1350.6" cy="445.5" r="5.85"/>
<circle cx="1344.6" cy="445.5" r="5.85"/>
<circle cx="1375.8" cy="443.3" r="5.85"/>
<circle cx="1314.9" cy="443.7" r="5.85"/>
<circle cx="1320.5" cy="445.9" r="5.85"/>
<circle cx="1326.1" cy="447.1" r="5.85"/>
<circle cx="1332.0" cy="447.4" r="5.85"/>
<circle cx="1337.9" cy="446.7" r="5.85"/>
<circle cx="1343.1" cy="449.7" r="5.85"/>
<circle cx="1369.1" cy="447.4" r="5.85"/>
<circle cx="1363.2" cy="444.5" r="5.85"/>
<circle cx="1356.5" cy="452.6" r="5.85"/>
<circle cx="1350.6" cy="447.4" r="5.85"/>
<circle cx="1326.4" cy="461.5" r="5.85"/>
<circle cx="1332.0" cy="461.5" r="5.85"/>
<circle cx="1337.9" cy="461.2" r="5.85"/>
<circle cx="1343.9" cy="460.8" r="5.85"/>
<circle cx="1350.6" cy="461.5" r="5.85"/>
<circle cx="1357.3" cy="463.0" r="5.85"/>
<circle cx="1363.2" cy="462.3" r="5.85"/>
<circle cx="1338.7" cy="474.5" r="5.85"/>
<circle cx="1363.2" cy="474.2" r="5.85"/>
<circle cx="1357.3" cy="480.5" r="5.85"/>
<circle cx="1350.6" cy="482.3" r="5.85"/>
<circle cx="1344.6" cy="484.6" r="5.85"/>
<circle cx="1338.7" cy="489.8" r="5.85"/>
<circle cx="1344.6" cy="496.5" r="5.85"/>
<circle cx="1350.6" cy="499.4" r="5.85"/>
<circle cx="1344.6" cy="523.2" r="5.85"/>
<circle cx="1350.6" cy="528.4" r="5.85"/>
<circle cx="1347.6" cy="542.1" r="5.85"/>
<circle cx="1347.6" cy="563.8" r="5.85"/>
<circle cx="1347.6" cy="640.1" r="5.85"/>
</g>
<g fill="#2200fb">
<circle cx="1543.7" cy="283.7" r="5.85"/>
<circle cx="1546.1" cy="318.3" r="5.85"/>
<circle cx="1542.0" cy="325.3" r="5.85"/>
<circle cx="1542.4" cy="331.7" r="5.85"/>
<circle cx="1546.1" cy="333.1" r="5.85"/>
<circle cx="1514.2" cy="359.1" r="5.85"/>
<circle cx="1509.7" cy="365.1" r="5.85"/>
<circle cx="1577.3" cy="366.6" r="5.85"/>
<circle cx="1549.8" cy="476.2" r="5.85"/>
<circle cx="1544.6" cy="474.0" r="5.85"/>
<circle cx="1537.9" cy="479.2" r="5.85"/>
<circle cx="1545.4" cy="477.7" r="5.85"/>
<circle cx="1542.0" cy="464.3" r="5.85"/>
<circle cx="1549.8" cy="456.2" r="5.85"/>
<circle cx="1531.3" cy="433.5" r="5.85"/>
<circle cx="1555.8" cy="428.7" r="5.85"/>
<circle cx="1542.0" cy="496.4" r="5.85"/>
<circle cx="1546.1" cy="496.0" r="5.85"/>
<circle cx="1546.1" cy="508.6" r="5.85"/>
<circle cx="1542.0" cy="511.2" r="5.85"/>
<circle cx="1543.7" cy="524.0" r="5.85"/>
<circle cx="1543.7" cy="557.7" r="5.85"/>
<circle cx="1539.4" cy="338.1" r="5.85"/>
<circle cx="1546.6" cy="338.1" r="5.85"/>
<circle cx="1552.4" cy="342.9" r="5.85"/>
<circle cx="1534.6" cy="343.6" r="5.85"/>
<circle cx="1529.4" cy="348.9" r="5.85"/>
<circle cx="1554.6" cy="349.9" r="5.85"/>
<circle cx="1559.4" cy="355.6" r="5.85"/>
<circle cx="1527.4" cy="355.9" r="5.85"/>
<circle cx="1564.6" cy="360.9" r="5.85"/>
<circle cx="1523.4" cy="362.1" r="5.85"/>
<circle cx="1570.4" cy="365.4" r="5.85"/>
<circle cx="1519.6" cy="368.4" r="5.85"/>
<circle cx="1571.4" cy="372.6" r="5.85"/>
<circle cx="1519.6" cy="375.6" r="5.85"/>
<circle cx="1569.9" cy="379.9" r="5.85"/>
<circle cx="1516.4" cy="382.1" r="5.85"/>
<circle cx="1570.9" cy="387.1" r="5.85"/>
<circle cx="1516.9" cy="389.4" r="5.85"/>
<circle cx="1574.9" cy="393.4" r="5.85"/>
<circle cx="1511.4" cy="394.4" r="5.85"/>
<circle cx="1575.6" cy="400.6" r="5.85"/>
<circle cx="1514.6" cy="401.1" r="5.85"/>
<circle cx="1568.6" cy="403.1" r="5.85"/>
<circle cx="1521.6" cy="403.4" r="5.85"/>
<circle cx="1561.1" cy="404.4" r="5.85"/>
<circle cx="1528.4" cy="406.1" r="5.85"/>
<circle cx="1555.1" cy="408.6" r="5.85"/>
<circle cx="1533.1" cy="411.9" r="5.85"/>
<circle cx="1549.6" cy="413.4" r="5.85"/>
<circle cx="1535.9" cy="418.9" r="5.85"/>
<circle cx="1551.4" cy="420.6" r="5.85"/>
<circle cx="1535.4" cy="426.1" r="5.85"/>
<circle cx="1552.4" cy="433.9" r="5.85"/>
<circle cx="1536.9" cy="439.6" r="5.85"/>
<circle cx="1549.6" cy="440.9" r="5.85"/>
<circle cx="1535.6" cy="446.9" r="5.85"/>
<circle cx="1548.4" cy="448.1" r="5.85"/>
<circle cx="1539.6" cy="452.9" r="5.85"/>
<circle cx="1541.1" cy="460.1" r="5.85"/>
<circle cx="1540.1" cy="343.6" r="5.85"/>
<circle cx="1547.9" cy="343.7" r="5.85"/>
<circle cx="1536.2" cy="350.4" r="5.85"/>
<circle cx="1544.6" cy="350.6" r="5.85"/>
<circle cx="1533.2" cy="357.6" r="5.85"/>
<circle cx="1539.3" cy="357.7" r="5.85"/>
<circle cx="1547.5" cy="357.5" r="5.85"/>
<circle cx="1529.1" cy="364.7" r="5.85"/>
<circle cx="1536.7" cy="363.4" r="5.85"/>
<circle cx="1543.2" cy="363.3" r="5.85"/>
<circle cx="1550.8" cy="363.6" r="5.85"/>
<circle cx="1559.7" cy="364.1" r="5.85"/>
<circle cx="1525.5" cy="371.0" r="5.85"/>
<circle cx="1532.6" cy="370.1" r="5.85"/>
<circle cx="1539.4" cy="370.0" r="5.85"/>
<circle cx="1547.0" cy="370.0" r="5.85"/>
<circle cx="1554.9" cy="371.0" r="5.85"/>
<circle cx="1563.0" cy="369.9" r="5.85"/>
<circle cx="1528.3" cy="377.2" r="5.85"/>
<circle cx="1536.5" cy="377.7" r="5.85"/>
<circle cx="1543.4" cy="376.4" r="5.85"/>
<circle cx="1550.9" cy="377.2" r="5.85"/>
<circle cx="1559.3" cy="377.3" r="5.85"/>
<circle cx="1525.3" cy="383.1" r="5.85"/>
<circle cx="1532.2" cy="384.3" r="5.85"/>
<circle cx="1539.7" cy="384.0" r="5.85"/>
<circle cx="1547.8" cy="384.5" r="5.85"/>
<circle cx="1555.0" cy="383.1" r="5.85"/>
<circle cx="1563.3" cy="384.2" r="5.85"/>
<circle cx="1521.8" cy="390.6" r="5.85"/>
<circle cx="1528.6" cy="390.4" r="5.85"/>
<circle cx="1536.5" cy="390.5" r="5.85"/>
<circle cx="1544.6" cy="391.0" r="5.85"/>
<circle cx="1551.4" cy="391.1" r="5.85"/>
<circle cx="1558.6" cy="389.8" r="5.85"/>
<circle cx="1566.2" cy="390.4" r="5.85"/>
<circle cx="1525.1" cy="397.6" r="5.85"/>
<circle cx="1533.1" cy="397.6" r="5.85"/>
<circle cx="1540.1" cy="397.0" r="5.85"/>
<circle cx="1548.2" cy="396.6" r="5.85"/>
<circle cx="1555.3" cy="397.1" r="5.85"/>
<circle cx="1562.2" cy="397.1" r="5.85"/>
<circle cx="1570.4" cy="397.5" r="5.85"/>
<circle cx="1535.5" cy="404.3" r="5.85"/>
<circle cx="1543.7" cy="404.3" r="5.85"/>
<circle cx="1551.7" cy="404.1" r="5.85"/>
<circle cx="1540.9" cy="410.4" r="5.85"/>
<circle cx="1543.7" cy="416.0" r="5.85"/>
<circle cx="1539.7" cy="423.8" r="5.85"/>
<circle cx="1547.6" cy="423.5" r="5.85"/>
<circle cx="1544.5" cy="430.6" r="5.85"/>
<circle cx="1540.8" cy="436.5" r="5.85"/>
<circle cx="1543.5" cy="442.6" r="5.85"/>
</g>
<g fill="#fb1e10">
<circle cx="1653.9" cy="291.5" r="5.85"/>
<circle cx="1664.3" cy="290.8" r="5.85"/>
<circle cx="1653.9" cy="299.7" r="5.85"/>
<circle cx="1668.7" cy="298.2" r="5.85"/>
<circle cx="1669.1" cy="303.4" r="5.85"/>
<circle cx="1664.3" cy="309.4" r="5.85"/>
<circle cx="1659.1" cy="319.8" r="5.85"/>
<circle cx="1663.9" cy="320.5" r="5.85"/>
<circle cx="1659.1" cy="331.7" r="5.85"/>
<circle cx="1669.5" cy="332.4" r="5.85"/>
<circle cx="1633.1" cy="333.1" r="5.85"/>
<circle cx="1639.0" cy="338.3" r="5.85"/>
<circle cx="1685.1" cy="339.8" r="5.85"/>
<circle cx="1690.3" cy="340.6" r="5.85"/>
<circle cx="1630.5" cy="363.6" r="5.85"/>
<circle cx="1692.1" cy="362.9" r="5.85"/>
<circle cx="1633.8" cy="379.2" r="5.85"/>
<circle cx="1630.5" cy="427.6" r="5.85"/>
<circle cx="1692.1" cy="427.9" r="5.85"/>
<circle cx="1676.9" cy="441.3" r="5.85"/>
<circle cx="1648.3" cy="456.9" r="5.85"/>
<circle cx="1673.9" cy="455.4" r="5.85"/>
<circle cx="1663.9" cy="465.1" r="5.85"/>
<circle cx="1656.1" cy="476.2" r="5.85"/>
<circle cx="1666.1" cy="482.2" r="5.85"/>
<circle cx="1659.1" cy="488.1" r="5.85"/>
<circle cx="1662.8" cy="488.8" r="5.85"/>
<circle cx="1630.5" cy="411.2" r="5.85"/>
<circle cx="1691.8" cy="413.8" r="5.85"/>
<circle cx="1656.1" cy="476.3" r="5.85"/>
<circle cx="1666.1" cy="481.9" r="5.85"/>
<circle cx="1659.1" cy="487.8" r="5.85"/>
<circle cx="1663.9" cy="491.2" r="5.85"/>
<circle cx="1661.3" cy="499.7" r="5.85"/>
<circle cx="1666.1" cy="503.1" r="5.85"/>
<circle cx="1656.1" cy="506.8" r="5.85"/>
<circle cx="1661.2" cy="530.0" r="5.85"/>
<circle cx="1652.9" cy="296.2" r="5.85"/>
<circle cx="1660.2" cy="296.2" r="5.85"/>
<circle cx="1660.4" cy="303.4" r="5.85"/>
<circle cx="1661.7" cy="316.2" r="5.85"/>
<circle cx="1657.9" cy="335.7" r="5.85"/>
<circle cx="1671.9" cy="336.9" r="5.85"/>
<circle cx="1650.2" cy="339.4" r="5.85"/>
<circle cx="1642.4" cy="340.4" r="5.85"/>
<circle cx="1677.4" cy="341.9" r="5.85"/>
<circle cx="1684.7" cy="343.4" r="5.85"/>
<circle cx="1643.9" cy="347.7" r="5.85"/>
<circle cx="1682.9" cy="350.4" r="5.85"/>
<circle cx="1639.9" cy="353.9" r="5.85"/>
<circle cx="1685.7" cy="357.4" r="5.85"/>
<circle cx="1635.2" cy="359.7" r="5.85"/>
<circle cx="1686.7" cy="369.4" r="5.85"/>
<circle cx="1635.9" cy="371.4" r="5.85"/>
<circle cx="1684.7" cy="376.4" r="5.85"/>
<circle cx="1688.4" cy="382.7" r="5.85"/>
<circle cx="1630.7" cy="384.7" r="5.85"/>
<circle cx="1693.2" cy="388.2" r="5.85"/>
<circle cx="1631.9" cy="391.9" r="5.85"/>
<circle cx="1689.7" cy="394.7" r="5.85"/>
<circle cx="1636.4" cy="397.7" r="5.85"/>
<circle cx="1689.7" cy="401.9" r="5.85"/>
<circle cx="1632.7" cy="404.2" r="5.85"/>
<circle cx="1689.7" cy="409.2" r="5.85"/>
<circle cx="1634.2" cy="418.4" r="5.85"/>
<circle cx="1684.4" cy="421.2" r="5.85"/>
<circle cx="1639.7" cy="423.4" r="5.85"/>
<circle cx="1678.4" cy="425.2" r="5.85"/>
<circle cx="1644.7" cy="428.7" r="5.85"/>
<circle cx="1672.2" cy="429.2" r="5.85"/>
<circle cx="1647.4" cy="435.4" r="5.85"/>
<circle cx="1673.2" cy="436.4" r="5.85"/>
<circle cx="1651.4" cy="441.4" r="5.85"/>
<circle cx="1669.2" cy="442.9" r="5.85"/>
<circle cx="1662.7" cy="446.2" r="5.85"/>
<circle cx="1653.7" cy="448.4" r="5.85"/>
<circle cx="1660.4" cy="453.2" r="5.85"/>
<circle cx="1666.4" cy="457.2" r="5.85"/>
<circle cx="1655.2" cy="461.7" r="5.85"/>
<circle cx="1657.5" cy="342.0" r="5.85"/>
<circle cx="1665.6" cy="342.5" r="5.85"/>
<circle cx="1654.3" cy="348.5" r="5.85"/>
<circle cx="1662.4" cy="349.1" r="5.85"/>
<circle cx="1669.2" cy="349.1" r="5.85"/>
<circle cx="1676.4" cy="347.8" r="5.85"/>
<circle cx="1650.9" cy="355.6" r="5.85"/>
<circle cx="1657.9" cy="355.1" r="5.85"/>
<circle cx="1666.0" cy="354.6" r="5.85"/>
<circle cx="1673.1" cy="355.1" r="5.85"/>
<circle cx="1680.0" cy="355.1" r="5.85"/>
<circle cx="1646.8" cy="362.2" r="5.85"/>
<circle cx="1653.3" cy="362.3" r="5.85"/>
<circle cx="1661.5" cy="362.3" r="5.85"/>
<circle cx="1669.5" cy="362.1" r="5.85"/>
<circle cx="1677.1" cy="361.8" r="5.85"/>
<circle cx="1684.2" cy="361.7" r="5.85"/>
<circle cx="1642.6" cy="367.9" r="5.85"/>
<circle cx="1650.5" cy="368.0" r="5.85"/>
<circle cx="1658.7" cy="368.4" r="5.85"/>
<circle cx="1665.1" cy="368.0" r="5.85"/>
<circle cx="1672.9" cy="368.6" r="5.85"/>
<circle cx="1681.4" cy="368.8" r="5.85"/>
<circle cx="1639.0" cy="375.2" r="5.85"/>
<circle cx="1646.7" cy="374.7" r="5.85"/>
<circle cx="1653.9" cy="374.0" r="5.85"/>
<circle cx="1661.5" cy="374.1" r="5.85"/>
<circle cx="1670.1" cy="374.2" r="5.85"/>
<circle cx="1677.4" cy="375.3" r="5.85"/>
<circle cx="1642.3" cy="381.3" r="5.85"/>
<circle cx="1650.7" cy="380.8" r="5.85"/>
<circle cx="1657.5" cy="381.9" r="5.85"/>
<circle cx="1665.4" cy="381.5" r="5.85"/>
<circle cx="1672.7" cy="380.7" r="5.85"/>
<circle cx="1680.8" cy="381.3" r="5.85"/>
<circle cx="1639.4" cy="387.1" r="5.85"/>
<circle cx="1646.3" cy="388.5" r="5.85"/>
<circle cx="1654.7" cy="388.0" r="5.85"/>
<circle cx="1662.3" cy="388.6" r="5.85"/>
<circle cx="1669.9" cy="388.5" r="5.85"/>
<circle cx="1676.3" cy="388.1" r="5.85"/>
<circle cx="1684.9" cy="388.1" r="5.85"/>
<circle cx="1643.2" cy="395.3" r="5.85"/>
<circle cx="1650.0" cy="393.9" r="5.85"/>
<circle cx="1658.6" cy="394.5" r="5.85"/>
<circle cx="1666.3" cy="394.7" r="5.85"/>
<circle cx="1673.9" cy="394.6" r="5.85"/>
<circle cx="1680.8" cy="393.9" r="5.85"/>
<circle cx="1646.4" cy="401.2" r="5.85"/>
<circle cx="1654.9" cy="400.6" r="5.85"/>
<circle cx="1661.3" cy="400.7" r="5.85"/>
<circle cx="1669.7" cy="401.0" r="5.85"/>
<circle cx="1676.2" cy="401.1" r="5.85"/>
<circle cx="1684.1" cy="401.5" r="5.85"/>
<circle cx="1635.9" cy="408.1" r="5.85"/>
<circle cx="1642.0" cy="408.0" r="5.85"/>
<circle cx="1650.3" cy="408.4" r="5.85"/>
<circle cx="1657.5" cy="407.3" r="5.85"/>
<circle cx="1664.9" cy="407.5" r="5.85"/>
<circle cx="1672.5" cy="407.9" r="5.85"/>
<circle cx="1681.2" cy="408.0" r="5.85"/>
<circle cx="1638.2" cy="413.5" r="5.85"/>
<circle cx="1646.5" cy="413.6" r="5.85"/>
<circle cx="1653.4" cy="414.6" r="5.85"/>
<circle cx="1661.6" cy="414.6" r="5.85"/>
<circle cx="1669.3" cy="414.1" r="5.85"/>
<circle cx="1676.9" cy="414.2" r="5.85"/>
<circle cx="1685.0" cy="414.1" r="5.85"/>
<circle cx="1649.8" cy="420.3" r="5.85"/>
<circle cx="1657.4" cy="421.0" r="5.85"/>
<circle cx="1666.2" cy="421.6" r="5.85"/>
<circle cx="1673.5" cy="421.2" r="5.85"/>
<circle cx="1654.8" cy="427.2" r="5.85"/>
<circle cx="1661.6" cy="427.4" r="5.85"/>
<circle cx="1657.7" cy="434.7" r="5.85"/>
<circle cx="1666.2" cy="434.5" r="5.85"/>
<circle cx="1661.8" cy="440.0" r="5.85"/>
</g>
<line x1="307.6" y1="351.6" x2="307.6" y2="379.3" stroke="#000" stroke-width="3.0"/>
<line x1="295.2" y1="351.6" x2="319.4" y2="351.6" stroke="#000" stroke-width="2.2"/>
<line x1="295.2" y1="379.3" x2="319.4" y2="379.3" stroke="#000" stroke-width="2.2"/>
<line x1="282.3" y1="368.7" x2="332.3" y2="368.7" stroke="#000" stroke-width="5"/>
<line x1="384.1" y1="322.1" x2="384.1" y2="348.5" stroke="#000" stroke-width="3.0"/>
<line x1="371.9" y1="322.1" x2="396.0" y2="322.1" stroke="#000" stroke-width="2.2"/>
<line x1="371.9" y1="348.5" x2="396.0" y2="348.5" stroke="#000" stroke-width="2.2"/>
<line x1="358.9" y1="334.5" x2="409.0" y2="334.5" stroke="#000" stroke-width="5"/>
<line x1="511.5" y1="345.8" x2="511.5" y2="381.1" stroke="#000" stroke-width="3.0"/>
<line x1="499.3" y1="345.8" x2="523.6" y2="345.8" stroke="#000" stroke-width="2.2"/>
<line x1="499.3" y1="381.1" x2="523.6" y2="381.1" stroke="#000" stroke-width="2.2"/>
<line x1="486.1" y1="360.4" x2="536.8" y2="360.4" stroke="#000" stroke-width="5"/>
<line x1="588.1" y1="303.7" x2="588.1" y2="334.0" stroke="#000" stroke-width="3.0"/>
<line x1="576.1" y1="303.7" x2="600.0" y2="303.7" stroke="#000" stroke-width="2.2"/>
<line x1="576.1" y1="334.0" x2="600.0" y2="334.0" stroke="#000" stroke-width="2.2"/>
<line x1="562.9" y1="316.9" x2="613.2" y2="316.9" stroke="#000" stroke-width="5"/>
<line x1="715.5" y1="359.8" x2="715.5" y2="516.7" stroke="#000" stroke-width="3.0"/>
<line x1="703.2" y1="359.8" x2="727.7" y2="359.8" stroke="#000" stroke-width="2.2"/>
<line x1="703.2" y1="516.7" x2="727.7" y2="516.7" stroke="#000" stroke-width="2.2"/>
<line x1="690.3" y1="476.6" x2="740.8" y2="476.6" stroke="#000" stroke-width="5"/>
<line x1="791.9" y1="370.1" x2="791.9" y2="574.3" stroke="#000" stroke-width="3.0"/>
<line x1="779.9" y1="370.1" x2="804.4" y2="370.1" stroke="#000" stroke-width="2.2"/>
<line x1="779.9" y1="574.3" x2="804.4" y2="574.3" stroke="#000" stroke-width="2.2"/>
<line x1="767.2" y1="529.8" x2="817.6" y2="529.8" stroke="#000" stroke-width="5"/>
<line x1="424.1" y1="1156.0" x2="424.1" y2="1182.4" stroke="#000" stroke-width="3.0"/>
<line x1="382.7" y1="1156.0" x2="465.7" y2="1156.0" stroke="#000" stroke-width="2.2"/>
<line x1="382.7" y1="1182.4" x2="465.7" y2="1182.4" stroke="#000" stroke-width="2.2"/>
<line x1="340.3" y1="1168.5" x2="507.8" y2="1168.5" stroke="#000" stroke-width="5.4"/>
<line x1="675.5" y1="1207.9" x2="675.5" y2="1258.6" stroke="#000" stroke-width="3.0"/>
<line x1="633.4" y1="1207.9" x2="717.3" y2="1207.9" stroke="#000" stroke-width="2.2"/>
<line x1="633.4" y1="1258.6" x2="717.3" y2="1258.6" stroke="#000" stroke-width="2.2"/>
<line x1="591.7" y1="1236.9" x2="759.1" y2="1236.9" stroke="#000" stroke-width="5.4"/>
<line x1="1270.6" y1="1264.8" x2="1270.6" y2="1288.2" stroke="#000" stroke-width="3.0"/>
<line x1="1240.9" y1="1264.8" x2="1299.5" y2="1264.8" stroke="#000" stroke-width="2.2"/>
<line x1="1240.9" y1="1288.2" x2="1299.5" y2="1288.2" stroke="#000" stroke-width="2.2"/>
<line x1="1211.3" y1="1275.8" x2="1329.3" y2="1275.8" stroke="#000" stroke-width="5.2"/>
<line x1="1447.7" y1="1272.9" x2="1447.7" y2="1296.1" stroke="#000" stroke-width="3.0"/>
<line x1="1418.3" y1="1272.9" x2="1476.8" y2="1272.9" stroke="#000" stroke-width="2.2"/>
<line x1="1418.3" y1="1296.1" x2="1476.8" y2="1296.1" stroke="#000" stroke-width="2.2"/>
<line x1="1388.8" y1="1288.2" x2="1506.5" y2="1288.2" stroke="#000" stroke-width="5.2"/>
<line x1="1624.9" y1="1260.0" x2="1624.9" y2="1284.1" stroke="#000" stroke-width="3.0"/>
<line x1="1595.4" y1="1260.0" x2="1654.0" y2="1260.0" stroke="#000" stroke-width="2.2"/>
<line x1="1595.4" y1="1284.1" x2="1654.0" y2="1284.1" stroke="#000" stroke-width="2.2"/>
<line x1="1566.1" y1="1274.0" x2="1683.4" y2="1274.0" stroke="#000" stroke-width="5.2"/>
<line x1="1230.9" y1="449.6" x2="1230.9" y2="466.9" stroke="#000" stroke-width="3.0"/>
<line x1="1211.6" y1="449.6" x2="1249.9" y2="449.6" stroke="#000" stroke-width="2.2"/>
<line x1="1211.6" y1="466.9" x2="1249.9" y2="466.9" stroke="#000" stroke-width="2.2"/>
<line x1="1191.5" y1="457.9" x2="1269.9" y2="457.9" stroke="#000" stroke-width="5"/>
<line x1="1347.6" y1="427.3" x2="1347.6" y2="448.6" stroke="#000" stroke-width="3.0"/>
<line x1="1329.0" y1="427.3" x2="1366.9" y2="427.3" stroke="#000" stroke-width="2.2"/>
<line x1="1329.0" y1="448.6" x2="1366.9" y2="448.6" stroke="#000" stroke-width="2.2"/>
<line x1="1309.0" y1="438.7" x2="1387.0" y2="438.7" stroke="#000" stroke-width="5"/>
<line x1="1543.8" y1="379.5" x2="1543.8" y2="397.6" stroke="#000" stroke-width="3.0"/>
<line x1="1524.6" y1="379.5" x2="1562.8" y2="379.5" stroke="#000" stroke-width="2.2"/>
<line x1="1524.6" y1="397.6" x2="1562.8" y2="397.6" stroke="#000" stroke-width="2.2"/>
<line x1="1504.9" y1="390.1" x2="1582.9" y2="390.1" stroke="#000" stroke-width="5"/>
<line x1="1661.3" y1="380.4" x2="1661.3" y2="404.0" stroke="#000" stroke-width="3.0"/>
<line x1="1642.0" y1="380.4" x2="1680.3" y2="380.4" stroke="#000" stroke-width="2.2"/>
<line x1="1642.0" y1="404.0" x2="1680.3" y2="404.0" stroke="#000" stroke-width="2.2"/>
<line x1="1621.9" y1="392.0" x2="1700.0" y2="392.0" stroke="#000" stroke-width="5"/>
<text class="s" x="301.1 334.0 366.9" y="231.1" font-size="52" text-anchor="middle" stroke="#000" stroke-width="1.7" stroke-linejoin="miter">***</text>
<line x1="294.9" y1="242.9" x2="372.4" y2="242.9" stroke="#000" stroke-width="8.3"/>
<text class="s" x="478.6 511.6 544.5 577.4" y="210.2" font-size="52" text-anchor="middle" stroke="#000" stroke-width="1.7" stroke-linejoin="miter">****</text>
<line x1="490.1" y1="221.7" x2="566.9" y2="221.7" stroke="#000" stroke-width="8.5"/>
<text class="s" x="1267.0 1300.4" y="241.2" font-size="52" text-anchor="middle" stroke="#000" stroke-width="1.7" stroke-linejoin="miter">**</text>
<line x1="1227.5" y1="253" x2="1339.9" y2="253" stroke="#000" stroke-width="8"/>
<text class="s" x="500.2 532.9 565.6 598.3" y="1021.0" font-size="52" text-anchor="middle" stroke="#000" stroke-width="1.7" stroke-linejoin="miter">****</text>
<line x1="424" y1="1033" x2="675.7" y2="1033" stroke="#000" stroke-width="5.5"/>
</svg>
</body>
</html>
